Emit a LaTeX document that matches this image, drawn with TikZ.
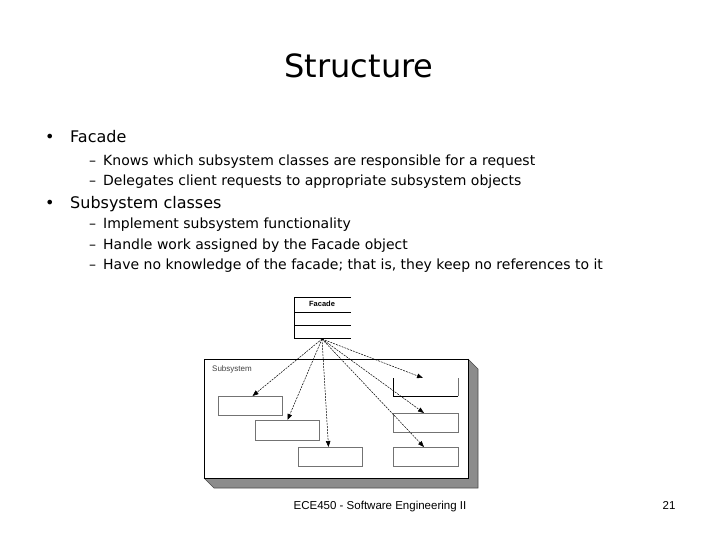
\documentclass[tikz,border=0pt]{standalone}
\usepackage{fontspec}
\setmainfont{DejaVu Sans}
\newfontfamily\footfont{Liberation Sans}
\newfontfamily\umlfont{Liberation Sans}
\usetikzlibrary{arrows.meta}
\tikzset{
  cls/.style={draw=black!55, line width=1pt, minimum width=65pt, minimum height=19pt, inner sep=0pt, anchor=north west},
  dep/.style={dash pattern=on 2pt off 1pt, line width=0.5pt, -{Triangle[length=6pt,width=4.5pt]}},
  lvlone/.style={anchor=base west, inner sep=0pt, font=\fontsize{16}{19}\selectfont},
  lvltwo/.style={anchor=base west, inner sep=0pt, font=\fontsize{14}{16}\selectfont},
}
\begin{document}
\begin{tikzpicture}[x=1pt, y=-1pt]
  \useasboundingbox (0,0) rectangle (720,540);
  % title
  \draw (359,78) node [anchor=base, inner sep=0pt, font=\fontsize{32}{38}\selectfont] (title) {Structure};
  % bullets
  \draw (45,143) node [lvlone] (dotA) {\textbullet};
  \draw (70,143) node [lvlone] (facadeItem) {Facade};
  \draw (89,166) node [lvltwo] (dashA) {--};
  \draw (103,166) node [lvltwo] (knows) {Knows which subsystem classes are responsible for a request};
  \draw (89,186) node [lvltwo] (dashB) {--};
  \draw (103,186) node [lvltwo] (delegates) {Delegates client requests to appropriate subsystem objects};
  \draw (45,209) node [lvlone] (dotB) {\textbullet};
  \draw (70,209) node [lvlone] (subItem) {Subsystem classes};
  \draw (89,229) node [lvltwo] (dashC) {--};
  \draw (103,229) node [lvltwo] (implement) {Implement subsystem functionality};
  \draw (89,249) node [lvltwo] (dashD) {--};
  \draw (103,249) node [lvltwo] (handle) {Handle work assigned by the Facade object};
  \draw (89,269) node [lvltwo] (dashE) {--};
  \draw (103,269) node [lvltwo] (noknow) {Have no knowledge of the facade; that is, they keep no references to it};
  % subsystem package with shadow
  \fill [black!45] (468,359) -- (478,369) -- (478,488) -- (214,488) -- (204,478) -- (468,478) -- cycle;
  \draw [black!70, line width=0.6pt] (468,359) -- (478,369) -- (478,488) -- (214,488) -- (204,478);
  \draw [fill=white, line width=1pt] (204,359) rectangle (468,478);
  \draw (212,369) node [anchor=west, inner sep=0pt, text=black!75, font=\umlfont\fontsize{8}{9}\selectfont] (subLabel) {Subsystem};
  % facade class
  \draw [line width=1pt] (351,297) -- (294,297) -- (294,338) -- (351,338);
  \draw [line width=1pt] (294,312) -- (351,312);
  \draw [line width=1pt] (294,325) -- (351,325);
  \draw (322,304) node [inner sep=0pt, font=\umlfont\bfseries\fontsize{7.5}{9}\selectfont] (facadeName) {Facade};
  \coordinate (src) at (322,339);
  % subsystem classes
  \node [cls, minimum width=64pt] (clsA) at (218,396) {};
  \node [cls, minimum width=64pt, minimum height=20pt] (clsB) at (255,420) {};
  \node [cls, minimum width=64pt] (clsC) at (298,447) {};
  \draw [black, line width=1pt] (393,378) -- (393,396) -- (458,396);
  \draw [black!55, line width=1pt] (458,396) -- (458,378);
  \coordinate (clsD) at (423,378);
  \node [cls] (clsE) at (393,413) {};
  \node [cls] (clsF) at (393,447) {};
  % dependencies
  \draw [dep] (src) -- ([xshift=2pt]clsA.north);
  \draw [dep] (src) -- (clsB.north);
  \draw [dep] (src) -- ([xshift=-2pt]clsC.north);
  \draw [dep] (src) -- (clsD);
  \draw [dep] (src) -- ([xshift=-2pt]clsE.north);
  \draw [dep] (src) -- ([xshift=-2pt]clsF.north);
  % footer
  \draw (380,509) node [anchor=base, inner sep=0pt, font=\footfont\fontsize{11.5}{14}\selectfont] (footer) {ECE450 - Software Engineering II};
  \draw (669,509) node [anchor=base, inner sep=0pt, font=\footfont\fontsize{11.5}{14}\selectfont] (pageNo) {21};
\end{tikzpicture}
\end{document}
